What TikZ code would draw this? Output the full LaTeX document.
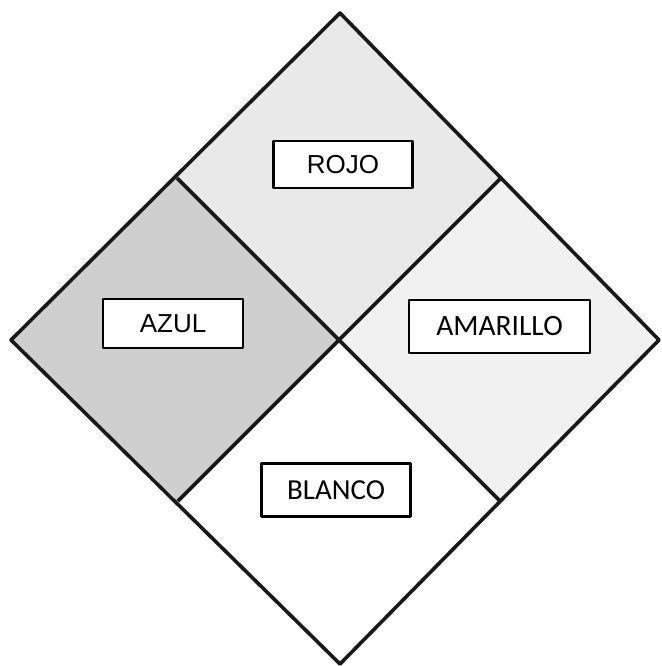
\documentclass[tikz,border=0pt]{standalone}
\usepackage{fontspec}
\newfontfamily\arialf{Liberation Sans}
\newfontfamily\calibrif{Carlito}
\definecolor{rojogris}{HTML}{E9E9E9}
\definecolor{azulgris}{HTML}{CFCFCF}
\definecolor{amagris}{HTML}{F1F1F1}
\tikzset{
  etiqueta/.style={draw,fill=white,line width=2.8pt,inner sep=0pt},
}
\begin{document}
\begin{tikzpicture}[x=1pt,y=-1pt,line join=round]
            \useasboundingbox (0,0) rectangle (661,666);
            \fill[rojogris] (340,13) -- (501,178) -- (340,340) -- (177,178) -- cycle;
            \fill[azulgris] (177,178) -- (340,340) -- (178,501) -- (11,340) -- cycle;
            \fill[amagris] (501,178) -- (659,340) -- (500,501) -- (340,340) -- cycle;
            \fill[white] (340,340) -- (500,501) -- (340,664) -- (178,501) -- cycle;
            \draw[line width=3.6pt,black!90] (340,13) -- (659,340) -- (340,664) -- (11,340) -- cycle;
            \draw[line width=3.6pt,black!90] (177,178) -- (500,501);
            \draw[line width=3.6pt,black!90] (501,178) -- (178,501);
            \node[etiqueta,minimum width=139,minimum height=47] (rojo) at (343,164.5) {\arialf\fontsize{26}{31}\selectfont ROJO};
            \node[etiqueta,minimum width=140,minimum height=49] (azul) at (173,323.5) {\arialf\fontsize{26}{31}\selectfont AZUL};
            \node[etiqueta,minimum width=181,minimum height=53] (amarillo) at (499.5,326.5) {\calibrif\fontsize{29.5}{35}\selectfont AMARILLO};
            \node[etiqueta,minimum width=149,minimum height=53] (blanco) at (336,490) {\calibrif\fontsize{29}{35}\selectfont BLANCO};
        \end{tikzpicture}
\end{document}
